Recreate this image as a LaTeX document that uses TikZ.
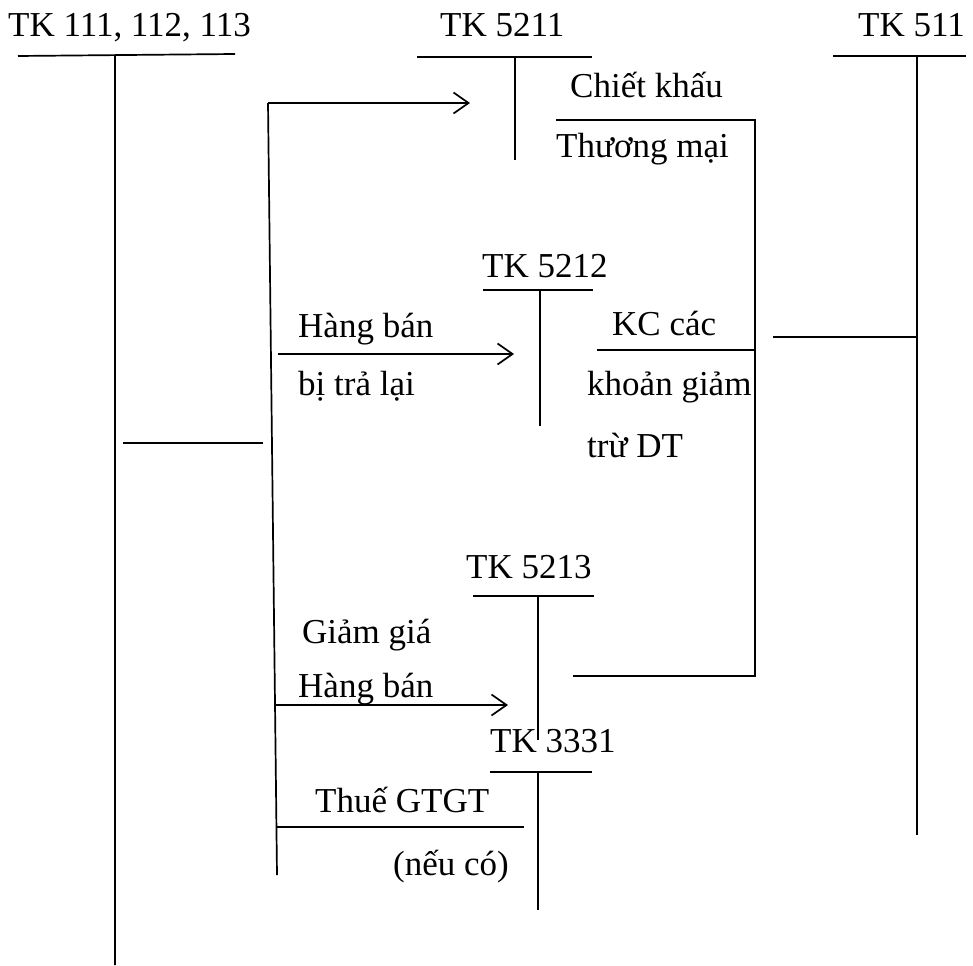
\documentclass[tikz,border=0pt]{standalone}
\usepackage{fontspec}
\setmainfont{Liberation Serif}
\usetikzlibrary{arrows.meta}
\begin{document}
\begin{tikzpicture}[x=1pt,y=-1pt,
  ln/.style={line width=1.7pt},
  arr/.style={line width=1.7pt,-{Straight Barb[length=15pt,width=21pt,line width=1.7pt]}},
  lbl/.style={inner sep=0pt,anchor=base west,font=\fontsize{35}{40}\selectfont}]
\useasboundingbox (0,0) rectangle (973,965);
% account titles
\node[lbl] (t111) at (8,37) {TK 111, 112, 113};
\node[lbl] (t5211) at (440,37) {TK 5211};
\node[lbl] (t511) at (858,37) {TK 511};
\node[lbl] (t5212) at (482,277) {TK 5212};
\node[lbl] (t5213) at (466,578) {TK 5213};
\node[lbl] (t3331) at (490,752) {TK 3331};
% labels
\node[lbl] (ck) at (570,98) {Chiết khấu};
\node[lbl] (tm) at (556,158) {Thương mại};
\node[lbl] (hb1) at (298,337) {Hàng bán};
\node[lbl] (btl) at (298,395) {bị trả lại};
\node[lbl] (kc) at (612,335) {KC các};
\node[lbl] (kg) at (587,395) {khoản giảm};
\node[lbl] (tdt) at (587,457) {trừ DT};
\node[lbl] (gg) at (302,643) {Giảm giá};
\node[lbl] (hb2) at (298,697) {Hàng bán};
\node[lbl] (thue) at (315,812) {Thuế GTGT};
\node[lbl] (nc) at (393,875) {(nếu có)};
% T-account coordinates
\coordinate (a1l) at (18,56); \coordinate (a1r) at (235,54);
\coordinate (a1t) at (115,55); \coordinate (a1b) at (115,965);
\coordinate (a2l) at (417,57); \coordinate (a2r) at (592,57);
\coordinate (a2t) at (515,57); \coordinate (a2b) at (515,160);
\coordinate (a3l) at (833,56); \coordinate (a3r) at (966,56);
\coordinate (a3t) at (917,56); \coordinate (a3b) at (917,835);
\coordinate (a4l) at (483,290); \coordinate (a4r) at (593,290);
\coordinate (a4t) at (540,290); \coordinate (a4b) at (540,426);
\coordinate (a5l) at (473,596); \coordinate (a5r) at (594,596);
\coordinate (a5t) at (538,596); \coordinate (a5b) at (538,740);
\coordinate (a6l) at (490,772); \coordinate (a6r) at (592,772);
\coordinate (a6t) at (538,772); \coordinate (a6b) at (538,910);
\draw[ln] (a1l) -- (a1r) (a1t) -- (a1b);
\draw[ln] (a2l) -- (a2r) (a2t) -- (a2b);
\draw[ln] (a3l) -- (a3r) (a3t) -- (a3b);
\draw[ln] (a4l) -- (a4r) (a4t) -- (a4b);
\draw[ln] (a5l) -- (a5r) (a5t) -- (a5b);
\draw[ln] (a6l) -- (a6r) (a6t) -- (a6b);
% left short line
\coordinate (s1) at (123,443); \coordinate (s2) at (263,443);
\draw[ln] (s1) -- (s2);
% bracket
\coordinate (bt) at (268,103); \coordinate (bb) at (277,875);
\coordinate (e1) at (470,103);
\draw[ln] (bb) -- (bt);
\draw[arr] (bt) -- (e1);
\coordinate (r1) at (278,354); \coordinate (e2) at (514,354);
\draw[arr] (r1) -- (e2);
\coordinate (r2) at (276,705); \coordinate (e3) at (508,705);
\draw[arr] (r2) -- (e3);
\coordinate (r3) at (277,827); \coordinate (e4) at (524,827);
\draw[ln] (r3) -- (e4);
% transfer bracket on right
\coordinate (k1) at (556,120); \coordinate (k2) at (755,120);
\coordinate (k3) at (755,676); \coordinate (k4) at (573,676);
\draw[ln] (k1) -- (k2) -- (k3) -- (k4);
\coordinate (k5) at (597,350); \coordinate (k6) at (755,350);
\draw[ln] (k5) -- (k6);
\coordinate (k7) at (773,337); \coordinate (k8) at (918,337);
\draw[ln] (k7) -- (k8);
\end{tikzpicture}
\end{document}
